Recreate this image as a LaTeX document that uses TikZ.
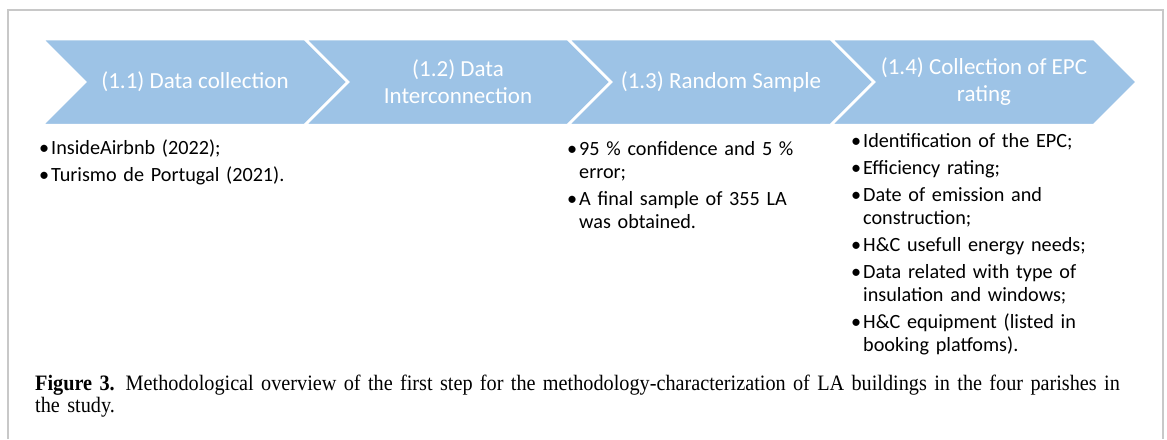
\documentclass[tikz,border=0pt]{standalone}
\usepackage{fontspec}
\setmainfont{Carlito}
\newfontfamily\capfont[FakeStretch=0.92]{Liberation Serif}
\usetikzlibrary{shapes.symbols,positioning}

\definecolor{chevblue}{HTML}{9DC3E6}
\definecolor{framegray}{HTML}{C8C8C8}
\newcommand{\bul}{\leavevmode\llap{\textbullet\hspace{2pt}}}

\begin{document}
\begin{tikzpicture}[x=1pt, y=-1pt,
    phase/.style={signal, signal to=east, signal from=west, signal pointer angle=90,
        fill=chevblue, draw=white, line width=2.5pt, minimum width=306pt, minimum height=86pt,
        inner sep=0pt, text=white, align=center, font=\fontsize{23}{27}\selectfont},
    points/.style={anchor=base west, text width=260pt, inner sep=0pt, align=left,
        font=\fontsize{20.2}{23}\selectfont},
    caption/.style={anchor=base west, text width=1120pt, inner sep=0pt, align=left,
        font=\capfont\fontsize{22}{22.5}\selectfont}
]
    \useasboundingbox (0,0) rectangle (1167,439);
    \draw[framegray, line width=1.5pt] (8,439) -- (8,10) -- (1163,10) -- (1163,439);

    % process chevrons
    \node[phase] (collect) at (195,82) {(1.1) Data collection};
    \node[phase] (interconnect) at (458,82) {(1.2) Data\\Interconnection};
    \node[phase] (sample) at (721,82) {(1.3) Random Sample};
    \node[phase] (epc) at (984,82) {(1.4) Collection of EPC\\rating};

    % bullet lists under the steps
    \node[points] (collectlist) at (51,154) {%
        \bul InsideAirbnb (2022);\\[4pt]
        \bul Turismo de Portugal (2021).};
    \node[points] (samplelist) at (579,155) {%
        \bul 95 \% confidence and 5 \%\\
        error;\\[4pt]
        \bul A final sample of 355 LA\\
        was obtained.};
    \node[points] (epclist) at (863,147) {%
        \bul Identification of the EPC;\\[4pt]
        \bul Efficiency rating;\\[4pt]
        \bul Date of emission and\\
        construction;\\[4pt]
        \bul H\&C usefull energy needs;\\[4pt]
        \bul Data related with type of\\
        insulation and windows;\\[4pt]
        \bul H\&C equipment (listed in\\
        booking platfoms).};

    \node[caption] (figcap) at (35,390) {\textbf{Figure 3.} Methodological overview of the first step for the methodology-characterization of LA buildings in the four parishes in\\
        the study.};
\end{tikzpicture}
\end{document}
